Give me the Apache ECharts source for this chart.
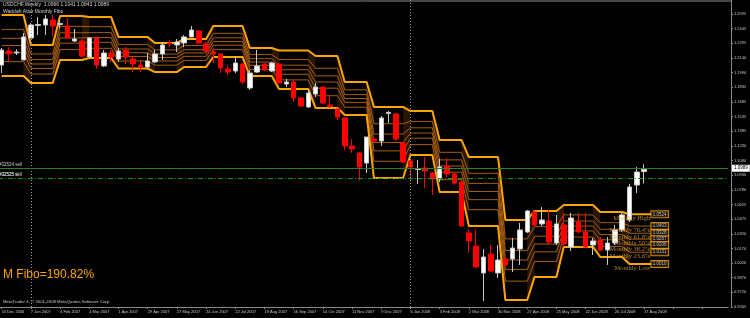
<!DOCTYPE html>
<html><head><meta charset="utf-8">
<script src="https://cdn.jsdelivr.net/npm/echarts@6/dist/echarts.min.js"></script>
<style>html,body{margin:0;padding:0;background:#000;}#c{width:750px;height:318px;}</style>
</head><body><div id="c"></div><script>
// ---- categories (weekly bars) ----
const weeks = ['10 Dec 2006','17 Dec 2006','24 Dec 2006','31 Dec 2006',
'7 Jan 2007','14 Jan 2007','21 Jan 2007','28 Jan 2007',
'4 Feb 2007','11 Feb 2007','18 Feb 2007','25 Feb 2007',
'4 Mar 2007','11 Mar 2007','18 Mar 2007','25 Mar 2007',
'1 Apr 2007','8 Apr 2007','15 Apr 2007','22 Apr 2007','29 Apr 2007',
'6 May 2007','13 May 2007','20 May 2007','27 May 2007',
'3 Jun 2007','10 Jun 2007','17 Jun 2007','24 Jun 2007',
'1 Jul 2007','8 Jul 2007','15 Jul 2007','22 Jul 2007','29 Jul 2007',
'5 Aug 2007','12 Aug 2007','19 Aug 2007','26 Aug 2007',
'2 Sep 2007','9 Sep 2007','16 Sep 2007','23 Sep 2007','30 Sep 2007',
'7 Oct 2007','14 Oct 2007','21 Oct 2007','28 Oct 2007',
'4 Nov 2007','11 Nov 2007','18 Nov 2007','25 Nov 2007',
'2 Dec 2007','9 Dec 2007','16 Dec 2007','23 Dec 2007','30 Dec 2007',
'6 Jan 2008','13 Jan 2008','20 Jan 2008','27 Jan 2008',
'3 Feb 2008','10 Feb 2008','17 Feb 2008','24 Feb 2008',
'2 Mar 2008','9 Mar 2008','16 Mar 2008','23 Mar 2008','30 Mar 2008',
'6 Apr 2008','13 Apr 2008','20 Apr 2008','27 Apr 2008',
'4 May 2008','11 May 2008','18 May 2008','25 May 2008',
'1 Jun 2008','8 Jun 2008','15 Jun 2008','22 Jun 2008','29 Jun 2008',
'6 Jul 2008','13 Jul 2008','20 Jul 2008','27 Jul 2008',
'3 Aug 2008','10 Aug 2008','17 Aug 2008'];

// ---- OHLC ----
const opens = [1.2068,1.2213,1.2192,1.2120,1.2347,1.2477,1.2482,1.2534,1.2487,1.2472,
1.2316,1.2316,1.2151,1.2347,1.2058,1.2192,1.2130,1.2223,1.2130,1.2068,
1.2047,1.2099,1.2182,1.2296,1.2275,1.2296,1.2358,1.2420,1.2285,1.2202,
1.2182,1.2027,1.2006,1.2078,1.1830,1.1995,1.2078,1.2006,1.2078,1.1871,
1.1892,1.1727,1.1634,1.1768,1.1840,1.1654,1.1613,1.1520,1.1230,1.1158,
1.1054,1.1302,1.1282,1.1566,1.1561,1.1261,1.1075,1.0987,1.1003,1.0951,
1.0889,1.1023,1.0941,1.0858,1.0331,1.0196,0.9917,1.0113,0.9917,1.0062,
1.0062,1.0165,1.0341,1.0547,1.0424,1.0454,1.0227,1.0413,1.0186,1.0444,
1.0341,1.0206,1.0258,1.0155,1.0227,1.0362,1.0465,1.0827,1.0966];
const closes = [1.2223,1.2182,1.2203,1.2358,1.2482,1.2487,1.2544,1.2472,1.2497,1.2347,
1.2337,1.2161,1.2347,1.2068,1.2192,1.2151,1.2213,1.2151,1.2078,1.2047,
1.2109,1.2182,1.2275,1.2285,1.2306,1.2358,1.2430,1.2296,1.2213,1.2182,
1.2037,1.1995,1.2089,1.1892,1.1985,1.2058,1.2016,1.2089,1.1882,1.1892,
1.1727,1.1644,1.1778,1.1840,1.1675,1.1639,1.1530,1.1230,1.1199,1.1013,
1.1323,1.1282,1.1520,1.1577,1.1302,1.1065,1.1013,1.0997,1.0972,1.0889,
1.1013,1.0941,1.0848,1.0403,1.0248,0.9979,1.0082,0.9937,1.0051,1.0000,
1.0175,1.0362,1.0558,1.0413,1.0465,1.0237,1.0424,1.0217,1.0486,1.0341,
1.0186,1.0248,1.0155,1.0227,1.0362,1.0517,1.0806,1.0961,1.0989];
const lows = [1.1985,1.2099,1.2171,1.2120,1.2347,1.2378,1.2378,1.2368,1.2451,1.2347,
1.2306,1.2151,1.2140,1.2027,1.2047,1.2099,1.2099,1.2078,1.1995,1.1995,
1.2037,1.2089,1.2120,1.2254,1.2202,1.2254,1.2358,1.2285,1.2202,1.2089,
1.1985,1.1964,1.1985,1.1871,1.1809,1.1985,1.2006,1.1995,1.1882,1.1840,
1.1685,1.1634,1.1623,1.1737,1.1665,1.1623,1.1499,1.1189,1.1158,1.0879,
1.0951,1.1261,1.1230,1.1468,1.1282,1.1054,1.0879,1.0837,1.0796,1.0723,
1.0858,1.0910,1.0827,1.0393,1.0124,0.9968,0.9627,0.9927,0.9865,0.9989,
0.9927,1.0000,1.0331,1.0403,1.0403,1.0206,1.0206,1.0186,1.0144,1.0331,
1.0175,1.0103,1.0144,1.0000,1.0206,1.0341,1.0444,1.0744,1.0843];
const highs = [1.2244,1.2254,1.2233,1.2399,1.2503,1.2565,1.2585,1.2585,1.2534,1.2554,
1.2440,1.2337,1.2358,1.2358,1.2223,1.2223,1.2244,1.2254,1.2151,1.2120,
1.2192,1.2223,1.2306,1.2327,1.2337,1.2378,1.2471,1.2430,1.2306,1.2244,
1.2192,1.2068,1.2161,1.2089,1.2016,1.2223,1.2089,1.2099,1.2089,1.1923,
1.1913,1.1737,1.1809,1.1882,1.1840,1.1758,1.1623,1.1530,1.1302,1.1168,
1.1323,1.1313,1.1540,1.1592,1.1572,1.1261,1.1086,1.1086,1.1116,1.0961,
1.1096,1.1106,1.0951,1.0868,1.0362,1.0362,1.0165,1.0206,1.0206,1.0072,
1.0279,1.0434,1.0568,1.0558,1.0599,1.0568,1.0517,1.0537,1.0537,1.0537,
1.0537,1.0279,1.0289,1.0289,1.0413,1.0537,1.0837,1.1013,1.1041];

// ---- Monthly Fibo band (previous month's high / low), first week index of each month ----
const monthStartWeek = [0,4,8,12,16,21,25,29,34,38,43,47,51,56,60,64,69,73,77,82,86];
const monthHigh = [1.2585,1.2275,1.2575,1.2565,1.2358,1.2296,1.2337,1.2471,1.2244,1.2218,1.2161,1.1892,1.1634,1.1592,1.1292,1.1116,1.0465,1.0558,1.0620,1.0547,1.0524];
const monthLow  = [1.1954,1.1882,1.2120,1.2140,1.2032,1.1995,1.2047,1.2151,1.1954,1.1820,1.1623,1.1551,1.0899,1.1137,1.0754,1.0403,0.9637,0.9875,1.0186,1.0082,1.0010];
const bandEndWeek = 90;
const fibRatios = [0.764, 0.618, 0.5, 0.382, 0.236];
const fibNames = ['Monthly High','Monthly 76.4%','Monthly 61.8%','Monthly 50%','Monthly 38.2%','Monthly 23.6%','Monthly Low'];

// ---- y tick labels ----
const yMin = 0.9565, yMax = 1.27403, yStep = 0.01515;
const yTickLabels = ['0.9565','0.9720','0.9870','1.0020','1.0170','1.0320','1.0475','1.0625','1.0780','1.0930','1.1080','1.1230','1.1385','1.1535','1.1685','1.1835','1.1990','1.2140','1.2295','1.2445','1.2595'];

// ---- price / order lines ----
const bid = 1.0989;
const orderLevels = [1.0964, 1.0896, 1.0865];
const orderLabels = ['#32524 sell', '#32525 sell', '#32525 sl'];

const N_SLOTS = 100;
const categories = weeks.concat(Array.from({length: N_SLOTS - weeks.length}, (_, k) => 'f' + k));

const bandHigh = [], bandLow = [];
for (let i = 0; i < N_SLOTS; i++) {
  if (i >= bandEndWeek) { bandHigh.push(null); bandLow.push(null); continue; }
  let m = 0;
  while (m + 1 < monthStartWeek.length && monthStartWeek[m + 1] <= i) m++;
  bandHigh.push(monthHigh[m]); bandLow.push(monthLow[m]);
}
const fibSeries = fibRatios.map(r => ({
  type: 'line', symbol: 'none', silent: true, z: 1,
  data: bandHigh.map((h, i) => h == null ? null : +(bandLow[i] + r * (h - bandLow[i])).toFixed(5)),
  lineStyle: { color: '#a65e14', width: 1 }
}));

const lastM = monthHigh.length - 1;
const lastLevels = [monthHigh[lastM]].concat(fibRatios.map(r => monthLow[lastM] + r * (monthHigh[lastM] - monthLow[lastM]))).concat([monthLow[lastM]]);
const labelX = bandEndWeek - 1;

const candleData = weeks.map((_, i) => [opens[i], closes[i], lows[i], highs[i]]);
const firstOfYear = [weeks.findIndex(w => w.endsWith('2007')), weeks.findIndex(w => w.endsWith('2008'))];
const transitions = monthStartWeek.slice(1);

const FONT = 'Liberation Sans';
const chart = echarts.init(document.getElementById('c'), null, { renderer: 'canvas' });
chart.setOption({
  backgroundColor: '#000000',
  animation: false,
  textStyle: { fontFamily: FONT },
  grid: { left: -2, right: 22, top: 0, bottom: 11, containLabel: false, outerBoundsMode: 'none' },
  xAxis: {
    type: 'category', data: categories, boundaryGap: true,
    axisLine: { show: true, lineStyle: { color: '#8a8a8a', width: 1 } },
    axisTick: { show: true, alignWithLabel: true, interval: 3, length: 2, lineStyle: { color: '#8a8a8a' } },
    axisLabel: { interval: 3, fontSize: 4, color: '#c8c8c8', align: 'left', margin: 3, fontFamily: FONT,
      formatter: (v, idx) => idx < weeks.length ? v : '' },
    splitLine: { show: false }
  },
  yAxis: {
    type: 'value', position: 'right', offset: 3, min: yMin, max: yMax, interval: yStep, scale: true,
    axisLine: { show: true, lineStyle: { color: '#8a8a8a', width: 1 } },
    axisTick: { show: true, length: 2, lineStyle: { color: '#8a8a8a' } },
    axisLabel: { fontSize: 4, color: '#c8c8c8', margin: 3, showMaxLabel: false, fontFamily: FONT,
      formatter: v => { const k = Math.round((v - yMin) / yStep); return yTickLabels[k] || ''; } },
    splitLine: { show: false }
  },
  graphic: [
    { type: 'line', shape: { x1: 0, y1: 1, x2: 731, y2: 1 }, style: { stroke: '#8a8a8a', lineWidth: 1 }, silent: true },
    { type: 'text', left: 3, top: 2, style: { text: 'USDCHF,Weekly  1.0966 1.1041 1.0843 1.0989', fontSize: 5, fill: '#d0d0d0', fontFamily: FONT } },
    { type: 'text', left: 3, top: 9, style: { text: 'Waddah Attar Monthly Fibo', fontSize: 5, fill: '#d0d0d0', fontFamily: FONT } },
    { type: 'text', left: 3, top: 269, style: { text: 'M Fibo=190.82%', fontSize: 12, fill: '#FFA500', fontFamily: FONT } },
    { type: 'text', left: 3, top: 300, style: { text: 'MetaTrader 4, \u00a9 2001-2008 MetaQuotes Software Corp.', fontSize: 4.3, fill: '#c8c8c8', fontFamily: FONT } }
  ],
  series: [
    {
      type: 'custom', z: 0, silent: true,
      data: transitions.map(s => [s]),
      renderItem: (params, api) => {
        const s = api.value(0);
        const pts = [api.coord([s - 1, bandHigh[s - 1]]), api.coord([s, bandHigh[s]]),
                     api.coord([s, bandLow[s]]), api.coord([s - 1, bandLow[s - 1]])];
        return { type: 'polygon', shape: { points: pts }, style: { fill: 'rgba(140,72,14,0.3)' } };
      }
    }
  ].concat(fibSeries).concat([
    { type: 'line', symbol: 'none', silent: true, z: 2, data: bandHigh, lineStyle: { color: '#FFA500', width: 2 } },
    { type: 'line', symbol: 'none', silent: true, z: 2, data: bandLow, lineStyle: { color: '#FFA500', width: 2 } },
    {
      type: 'candlestick', z: 3, barWidth: 5, data: candleData,
      itemStyle: { color: '#ffffff', color0: '#ff0000', borderColor: '#c8c8c8', borderColor0: '#ff0000', borderWidth: 1 },
      markLine: {
        silent: true, symbol: ['none', 'none'], animation: false,
        data: [
          { xAxis: firstOfYear[0], lineStyle: { color: '#9a9a9a', type: [1, 2], width: 1 }, label: { show: false } },
          { xAxis: firstOfYear[1], lineStyle: { color: '#9a9a9a', type: [1, 2], width: 1 }, label: { show: false } },
          { yAxis: bid, lineStyle: { color: '#5a5a5a', type: 'solid', width: 1 },
            label: { show: true, position: 'end', distance: 4, formatter: bid.toFixed(4), backgroundColor: '#ffffff', color: '#000000', fontSize: 4.5, padding: [1, 2], fontFamily: FONT } }
        ].concat(orderLevels.map((v, k) => ({
          yAxis: v, lineStyle: { color: '#0a9a0a', type: [5, 2, 1, 2], width: 1 },
          label: { show: true, position: 'insideStartTop', distance: 1, formatter: orderLabels[k], color: '#c8c8c8', fontSize: 4.5, fontFamily: FONT }
        })))
      }
    },
    {
      type: 'scatter', z: 4, symbolSize: 0, silent: true,
      data: lastLevels.map(v => [labelX, v]),
      label: { show: true, position: 'left', distance: 1, offset: [0, 4], fontSize: 6.5, color: '#E0A040', fontFamily: 'Liberation Serif',
        formatter: p => fibNames[p.dataIndex] }
    },
    {
      type: 'scatter', z: 4, symbolSize: 0, silent: true,
      data: lastLevels.map(v => [labelX, v]),
      label: { show: true, position: 'right', distance: 0, fontSize: 4.5, color: '#e8e8e8', fontFamily: FONT,
        backgroundColor: '#1a1206', borderColor: '#FFA500', borderWidth: 1, padding: [0.5, 1.5],
        formatter: p => p.value[1].toFixed(4) }
    }
  ])
});
</script></body></html>
